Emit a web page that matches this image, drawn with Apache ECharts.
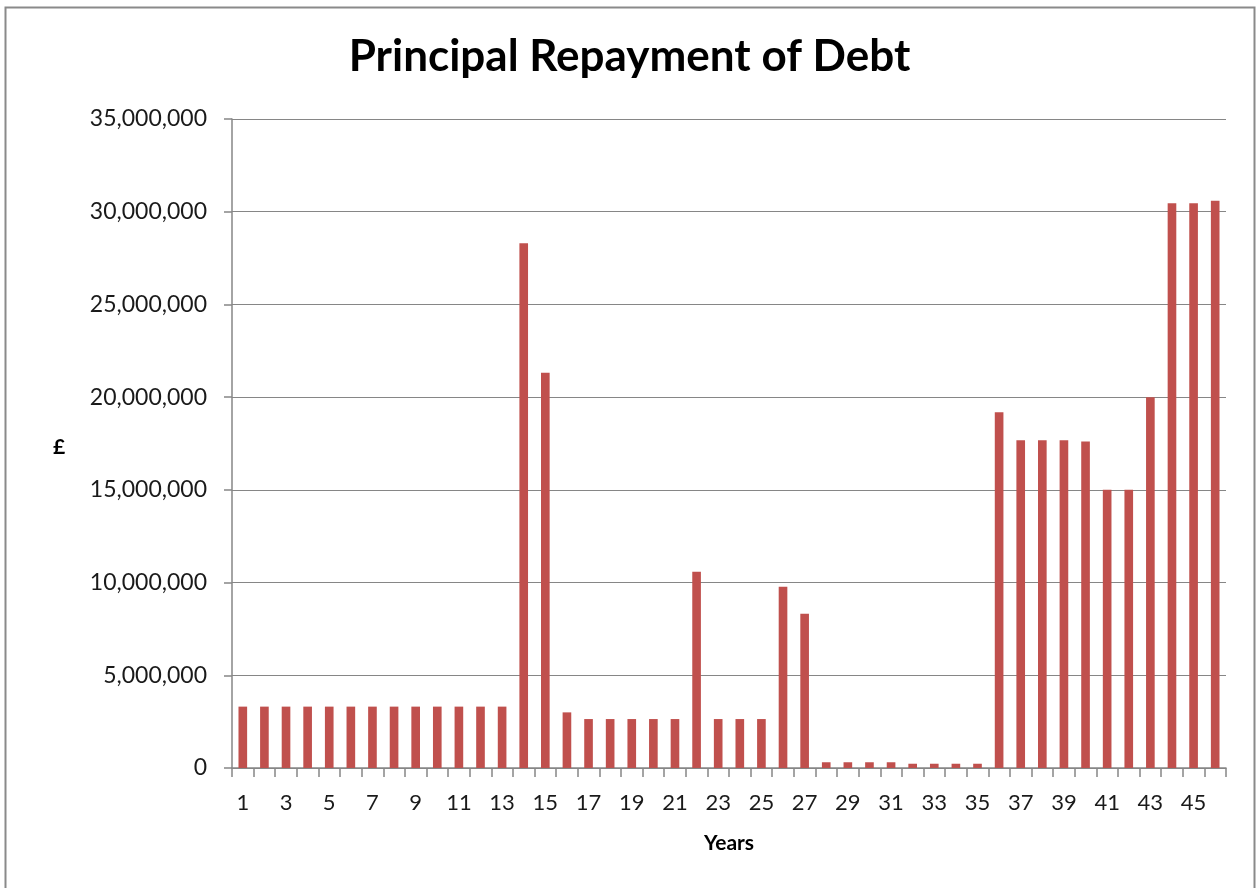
<!DOCTYPE html>
<html>
<head>
<meta charset="utf-8">
<script src="https://cdn.jsdelivr.net/npm/echarts@6/dist/echarts.min.js"></script>
<style>
  html, body { margin: 0; padding: 0; background: #ffffff; }
  #chart { width: 1259px; height: 888px; }
</style>
</head>
<body>
<div id="chart"></div>
<script>
// Years 1..46
const years = Array.from({ length: 46 }, (_, i) => String(i + 1));

// Principal repaid each year (£)
const repayments = [
  3310000, 3310000, 3310000, 3310000, 3310000, 3310000, 3310000, 3310000, 3310000, 3310000,
  3310000, 3310000, 3310000, 28300000, 21320000, 3000000, 2640000, 2640000, 2640000, 2640000,
  2640000, 10590000, 2640000, 2640000, 2640000, 9780000, 8320000, 310000, 310000, 310000,
  310000, 230000, 230000, 230000, 230000, 19190000, 17680000, 17680000, 17680000, 17610000,
  15000000, 15000000, 20000000, 30450000, 30450000, 30590000
];

const yTicks = { min: 0, max: 35000000, interval: 5000000 };

const chart = echarts.init(document.getElementById('chart'), null, { renderer: 'canvas' });
const font = 'Lato, "Open Sans", sans-serif';

chart.setOption({
  animation: false,
  backgroundColor: '#ffffff',
  graphic: [{
    type: 'rect',
    shape: { x: 5.5, y: 7.5, width: 1249, height: 890 },
    style: { fill: 'none', stroke: '#8a8a8a', lineWidth: 2 },
    silent: true
  }, {
    type: 'text',
    left: 53, top: 437,
    style: { text: '£', font: 'bold 21px ' + font, fill: '#000' }
  }],
  title: {
    text: 'Principal Repayment of Debt',
    left: 'center',
    top: 30,
    textStyle: { fontFamily: font, fontWeight: 'bold', fontSize: 44, color: '#000' }
  },
  grid: { left: 232, right: 33, top: 119, bottom: 120, containLabel: false },
  xAxis: {
    type: 'category',
    data: years,
    name: 'Years',
    nameLocation: 'middle',
    nameGap: 65,
    nameTextStyle: { fontFamily: font, fontWeight: 'bold', fontSize: 21, color: '#000' },
    axisLine: { lineStyle: { color: '#868686', width: 1.5 } },
    axisTick: { show: true, interval: 0, length: 9, inside: false, alignWithLabel: false,
      lineStyle: { color: '#868686', width: 1.5 } },
    axisLabel: { interval: 1, fontFamily: font, fontSize: 22, color: '#1a1a1a', margin: 24 },
    splitLine: { show: false }
  },
  yAxis: {
    type: 'value',
    min: yTicks.min,
    max: yTicks.max,
    interval: yTicks.interval,
    axisLine: { show: true, lineStyle: { color: '#868686', width: 1.5 } },
    axisTick: { show: true, length: 8, lineStyle: { color: '#868686', width: 1.5 } },
    axisLabel: {
      fontFamily: font, fontSize: 23, color: '#1a1a1a', margin: 25,
      formatter: v => v.toLocaleString('en-US')
    },
    splitLine: { show: true, lineStyle: { color: '#868686', width: 1.2 } }
  },
  series: [{
    type: 'bar',
    data: repayments,
    barWidth: '40%',
    itemStyle: { color: '#C0504D' }
  }]
});
</script>
</body>
</html>
